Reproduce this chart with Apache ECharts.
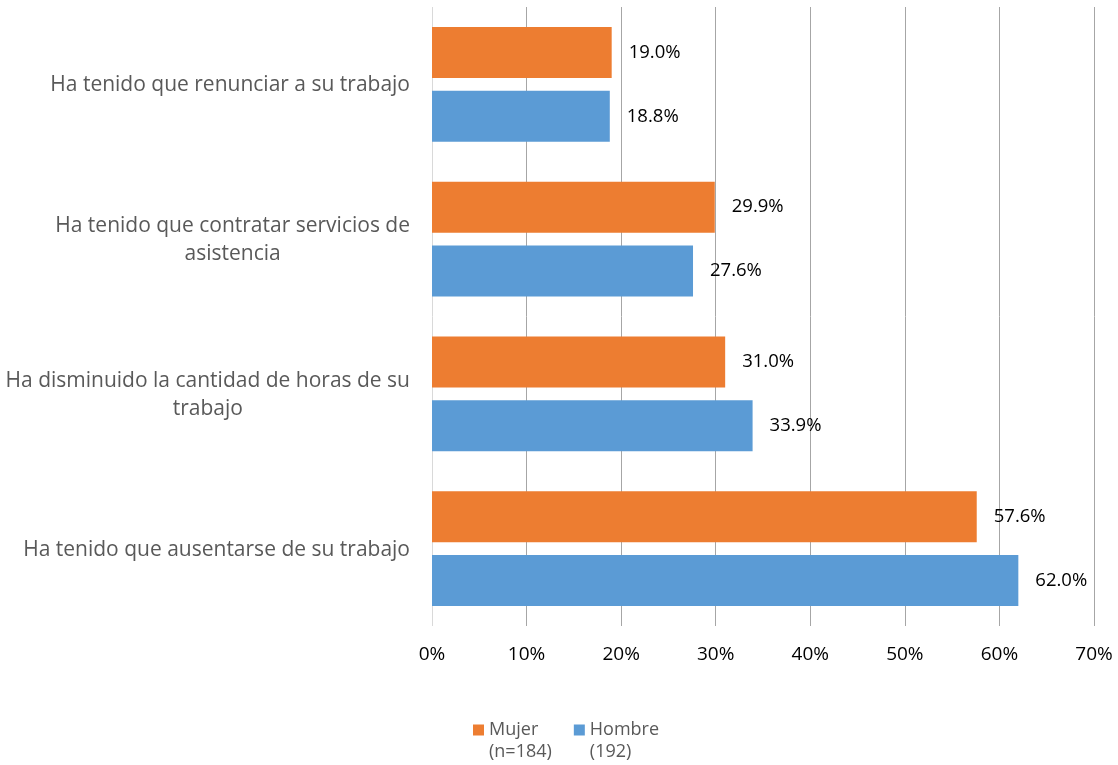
<!DOCTYPE html>
<html>
<head>
<meta charset="utf-8">
<script src="https://cdn.jsdelivr.net/npm/echarts@6/dist/echarts.min.js"></script>
<style>
html,body{margin:0;padding:0;background:#fff;}
#chart{width:1118px;height:765px;}
</style>
</head>
<body>
<div id="chart"></div>
<script>
// Categories, bottom to top
const categories = [
  'Ha tenido que ausentarse de su trabajo',
  'Ha disminuido la cantidad de horas de su trabajo',
  'Ha tenido que contratar servicios de asistencia',
  'Ha tenido que renunciar a su trabajo'
];
const categoryLabels = [
  ['Ha tenido que ausentarse de su trabajo'],
  ['Ha disminuido la cantidad de horas de su', 'trabajo'],
  ['Ha tenido que contratar servicios de', 'asistencia'],
  ['Ha tenido que renunciar a su trabajo']
];
const seriesNames = ['Mujer (n=184)', 'Hombre (192)'];
const mujer = [57.6, 31.0, 29.9, 19.0];
const hombre = [62.0, 33.9, 27.6, 18.8];
const xTicks = [0, 10, 20, 30, 40, 50, 60, 70];

const FONT = 'Open Sans';
const chart = echarts.init(document.getElementById('chart'));
const labelOpt = {
  show: true, position: 'right', distance: 17,
  color: '#000', fontSize: 18.5, fontFamily: FONT,
  formatter: p => p.value.toFixed(1) + '%'
};
chart.setOption({
  animation: false,
  textStyle: { fontFamily: FONT },
  grid: { left: 432, right: 24, top: 7, bottom: 139, containLabel: false },
  legend: {
    data: [seriesNames[0], seriesNames[1]],
    left: 468, top: 692,
    itemWidth: 11, itemHeight: 11, itemGap: 22,
    icon: 'rect',
    formatter: n => '\n' + n.replace(' ', '\n'),
    textStyle: { color: '#595959', fontSize: 18, fontFamily: FONT, lineHeight: 22 }
  },
  xAxis: {
    type: 'value', min: xTicks[0], max: xTicks[xTicks.length - 1], interval: 10,
    axisLine: { show: false }, axisTick: { show: false },
    axisLabel: { formatter: '{value}%', color: '#000', fontSize: 19, fontFamily: FONT, margin: 19 },
    splitLine: { lineStyle: { color: ['#d9d9d9', '#a6a6a6', '#a6a6a6', '#a6a6a6', '#a6a6a6', '#a6a6a6', '#a6a6a6', '#a6a6a6'], width: 1 } }
  },
  yAxis: {
    type: 'category', data: categories,
    axisLine: { show: false }, axisTick: { show: false },
    axisLabel: {
      margin: 22, color: '#595959', fontSize: 21, fontFamily: FONT, align: 'right',
      formatter: (v, i) => categoryLabels[i].map(s => '{c|' + s + '}').join('\n'),
      rich: { c: { align: 'center', color: '#595959', fontSize: 21, fontFamily: FONT, lineHeight: 28, padding: [2, 0, 0, 0] } }
    }
  },
  series: [
    { name: seriesNames[0], type: 'bar', data: mujer, itemStyle: { color: '#ed7d31' },
      barGap: '25%', barCategoryGap: '25.7%', label: labelOpt },
    { name: seriesNames[1], type: 'bar', data: hombre, itemStyle: { color: '#5b9bd5' },
      barGap: '25%', barCategoryGap: '25.7%', label: labelOpt }
  ]
});
</script>
</body>
</html>
